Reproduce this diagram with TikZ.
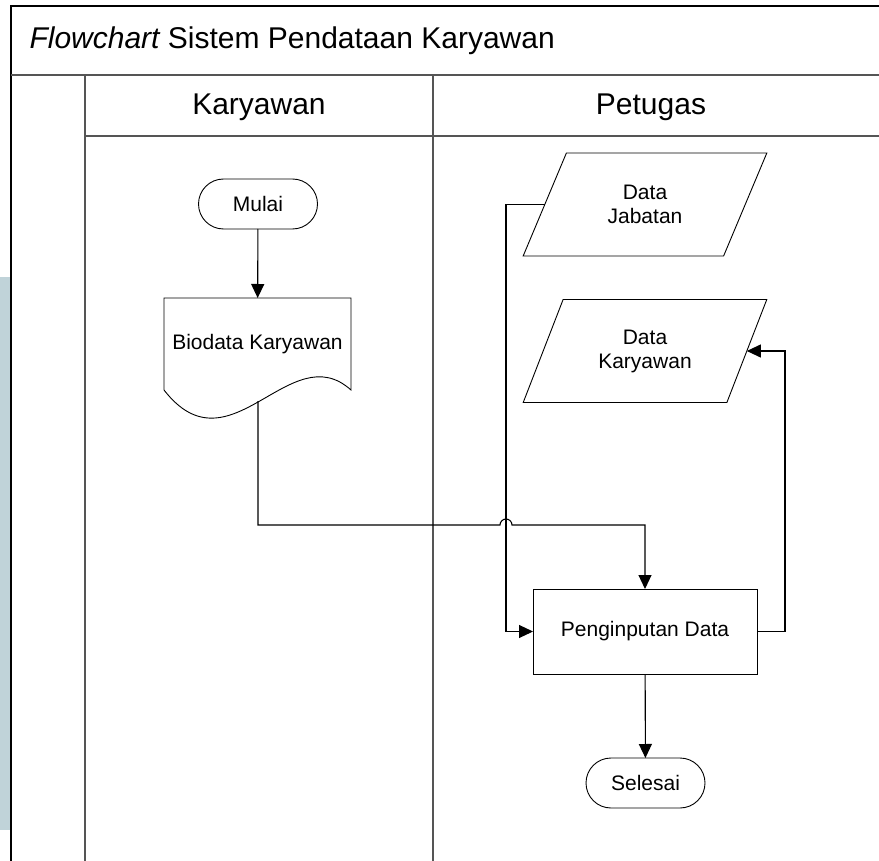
\documentclass[tikz,border=0pt]{standalone}
\usepackage{fontspec}
\setmainfont{Liberation Sans}
\usetikzlibrary{arrows.meta}
\usetikzlibrary{shapes.geometric}

\definecolor{framegray}{RGB}{85,85,85}
\definecolor{stripblue}{RGB}{192,211,217}

\tikzset{
  lane/.style={line width=1.6pt,draw=framegray},
  flow/.style={draw,line width=0.9pt,inner sep=0pt,outer sep=0pt,align=center,font=\fontsize{21}{24}\selectfont},
  terminal/.style={flow,rectangle,rounded corners=25pt,minimum width=119pt,minimum height=50pt},
  process/.style={flow,rectangle,minimum width=224pt,minimum height=85pt},
  io/.style={flow,trapezium,trapezium left angle=62,trapezium right angle=118,trapezium stretches=true,minimum width=244pt,minimum height=103pt},
  arr/.style={line width=1.1pt,-{Triangle[length=14pt,width=13pt]}},
  head/.style={font=\fontsize{30}{35}\selectfont}
}

\begin{document}
\begin{tikzpicture}[x=1pt,y=-1pt]
    \useasboundingbox (0,0) rectangle (879,861);
    \fill[stripblue] (0,277) rectangle (10,830);
    % frame and lanes
    \draw[line width=1.2pt] (11,861) -- (11,6) -- (879,6);
    \draw[lane] (11,75) -- (879,75);
    \draw[lane] (85,861) -- (85,75);
    \draw[lane] (85,136) -- (879,136);
    \draw[lane] (433,75) -- (433,861);
    \node[head,anchor=west] (title) at (26,41) {{\itshape Flowchart} Sistem Pendataan Karyawan};
    \node[head] (lanekar) at (259,107) {Karyawan};
    \node[head] (lanepet) at (651,107) {Petugas};
    % Karyawan
    \node[terminal] (mulai) at (258,204) {Mulai};
    \node[flow,draw=none,minimum width=187pt,minimum height=92pt] (bio) at (257.5,344) {Biodata Karyawan};
    \draw[line width=0.9pt] (bio.north west) -- (bio.north east) -- (bio.south east)
      .. controls (290,335) and (230,475) .. (bio.south west) -- cycle;
    \coordinate (bioout) at (258,401);
    % Petugas
    \node[io] (jab) at (645,204.5) {Data\\Jabatan};
    \node[io] (kar) at (645,351) {Data\\Karyawan};
    \node[process] (inp) at (645,631.5) {Penginputan Data};
    \node[terminal] (sel) at (645.5,783) {Selesai};
    \coordinate (hop) at (506,525);
    % connectors
    \draw[arr] (mulai) -- (bio);
    \draw[arr] (bioout) |- ([xshift=-6pt]hop) arc[start angle=180,end angle=0,radius=6pt] -| (inp);
    \draw[arr] (jab.west) -- (hop |- jab.west) |- (inp);
    \draw[arr] (inp.east) -- ++(28,0) |- (kar.east);
    \draw[arr] (inp) -- (sel);
\end{tikzpicture}
\end{document}
